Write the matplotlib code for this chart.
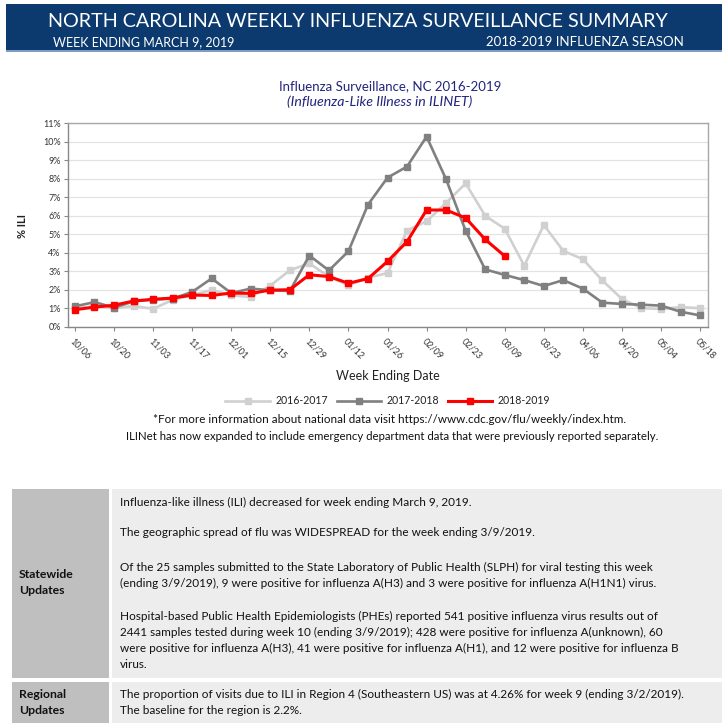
import numpy as np
import matplotlib
matplotlib.use("Agg")
import matplotlib.pyplot as plt
from matplotlib.patches import Rectangle

plt.rcParams['font.family'] = ['Lato', 'DejaVu Sans']

# week-ending dates shown on the x axis (every 2nd week)
tick_labels = ['10/06', '10/20', '11/03', '11/17', '12/01', '12/15', '12/29',
               '01/12', '01/26', '02/09', '02/23', '03/09', '03/23', '04/06',
               '04/20', '05/04', '05/18']

# % ILI per week, week 0 = 10/06
ili_2016 = [1.0, 1.1, 1.0, 1.12, 0.97, 1.45, 1.7, 1.98, 1.7, 1.6, 2.22, 3.05,
            3.43, 2.7, 2.25, 2.65, 2.9, 5.2, 5.7, 6.7, 7.75, 6.0, 5.3, 3.3,
            5.5, 4.1, 3.65, 2.5, 1.5, 1.0, 0.96, 1.06, 1.0]
ili_2017 = [1.1, 1.33, 1.03, 1.37, 1.47, 1.52, 1.88, 2.61, 1.82, 2.06, 1.97,
            1.93, 3.85, 3.04, 4.08, 6.6, 8.06, 8.66, 10.28, 7.97, 5.19, 3.1,
            2.8, 2.52, 2.2, 2.52, 2.06, 1.3, 1.23, 1.19, 1.14, 0.81, 0.61]
ili_2018 = [0.92, 1.06, 1.16, 1.39, 1.48, 1.55, 1.71, 1.69, 1.82, 1.8, 1.98,
            2.0, 2.81, 2.71, 2.35, 2.6, 3.53, 4.6, 6.31, 6.31, 5.88, 4.72, 3.82]

seasons = ['2016-2017', '2017-2018', '2018-2019']
colors = ['#D0D0D0', '#808080', '#FF0000']

statewide_lines = [
    "Influenza-like illness (ILI) decreased for week ending March 9, 2019.",
    "The geographic spread of flu was WIDESPREAD for the week ending 3/9/2019.",
    "Of the 25 samples submitted to the State Laboratory of Public Health (SLPH) for viral testing this week",
    "(ending 3/9/2019), 9 were positive for influenza A(H3) and 3 were positive for influenza A(H1N1) virus.",
    "Hospital-based Public Health Epidemiologists (PHEs) reported 541 positive influenza virus results out of",
    "2441 samples tested during week 10 (ending 3/9/2019); 428 were positive for influenza A(unknown), 60",
    "were positive for influenza A(H3), 41 were positive for influenza A(H1), and 12 were positive for influenza B",
    "virus.",
]
regional_lines = [
    "The proportion of visits due to ILI in Region 4 (Southeastern US) was at 4.26% for week 9 (ending 3/2/2019).",
    "The baseline for the region is 2.2%.",
]

W, H = 727, 726
fig = plt.figure(figsize=(W / 100, H / 100), dpi=100)


def fx(x):
    return x / W


def fy(y):
    return 1 - y / H


def box(x0, y0, x1, y1, color):
    fig.patches.append(Rectangle((fx(x0), fy(y1)), fx(x1 - x0), (y1 - y0) / H,
                                 transform=fig.transFigure, facecolor=color,
                                 edgecolor='none', zorder=0))


# header banner
navy = '#0C3A6E'
box(6, 4, 722, 51, navy)
box(6, 50, 722, 52, '#7E9CC6')
fig.text(fx(357.5), fy(21.5), 'NORTH CAROLINA WEEKLY INFLUENZA SURVEILLANCE SUMMARY',
         color='white', fontsize=14.2, ha='center', va='center')
fig.text(fx(53), fy(42.5), 'WEEK ENDING MARCH 9, 2019', color='white',
         fontsize=9, ha='left', va='center')
fig.text(fx(684), fy(42.5), '2018-2019 INFLUENZA SEASON', color='white',
         fontsize=9.5, ha='right', va='center')

# chart titles
title_c = '#22247E'
fig.text(fx(390), fy(86), 'Influenza Surveillance, NC 2016-2019', color=title_c,
         fontsize=9.5, ha='center', va='center')
fig.text(fx(380), fy(102), '(Influenza-Like Illness in ILINET)', color=title_c,
         fontsize=10.2, style='italic', ha='center', va='center')

# chart
ax = fig.add_axes([fx(67.7), fy(326.7), 640 / W, 203.4 / H])
weeks_all = np.arange(len(ili_2016))
weeks_2018 = np.arange(len(ili_2018))
ax.plot(weeks_all, ili_2016, color=colors[0], lw=1.9, marker='s', ms=4,
        label=seasons[0], zorder=3)
ax.plot(weeks_all, ili_2017, color=colors[1], lw=1.9, marker='s', ms=4,
        label=seasons[1], zorder=4)
ax.plot(weeks_2018, ili_2018, color=colors[2], lw=2.2, marker='s', ms=4.3,
        label=seasons[2], zorder=5)

ax.set_xlim(-0.37, 32.39)
ax.set_ylim(0, 11)
ax.set_yticks(range(12))
ax.set_yticklabels([f'{v}%' for v in range(12)], fontsize=6.5, color='#333333')
ax.set_xticks(np.arange(0, 33, 2))
ax.set_xticklabels(tick_labels, fontsize=6.5, color='#333333', rotation=-45,
                   ha='left', va='top', rotation_mode='anchor')
ax.tick_params(axis='both', length=3, color='#888888', width=0.8)
ax.tick_params(axis='x', pad=4)
ax.tick_params(axis='y', pad=2)
ax.grid(axis='y', color='#E4E4E4', lw=0.9)
ax.set_axisbelow(True)
for side in ['left', 'bottom']:
    ax.spines[side].set_color('#888888')
for side in ['top', 'right']:
    ax.spines[side].set_color('#A8A8A8')
for sp in ax.spines.values():
    sp.set_linewidth(1.0)

fig.text(fx(22), fy(226), '% ILI', rotation=90, fontsize=8, fontweight='bold',
         ha='center', va='center', color='#222222')
fig.text(fx(388), fy(376), 'Week Ending Date', fontsize=9, ha='center',
         va='center', color='#222222')

leg = fig.legend(loc='center', bbox_to_anchor=(fx(388), fy(401)), ncol=3,
                 frameon=False, fontsize=7.6, handlelength=4.2,
                 handletextpad=0.55, columnspacing=0.8)
for t in leg.get_texts():
    t.set_color('#222222')

fig.text(fx(390), fy(420),
         '*For more information about national data visit https://www.cdc.gov/flu/weekly/index.htm.',
         fontsize=8.4, ha='center', va='center', color='#111111')
fig.text(fx(392), fy(436),
         'ILINet has now expanded to include emergency department data that were previously reported separately.',
         fontsize=8.2, ha='center', va='center', color='#111111')

# updates table
box(12, 489, 109, 678, '#BFBFBF')
box(112, 489, 722, 678, '#EDEDED')
box(12, 682, 109, 723, '#BFBFBF')
box(112, 682, 722, 723, '#EDEDED')

for yy, word in zip([575, 591, 694, 710],
                    ['Statewide', 'Updates', 'Regional', 'Updates']):
    fig.text(fx(19), fy(yy), word, fontsize=8.8, fontweight='bold',
             ha='left', va='center', color='#111111')

state_y = [502, 533, 567, 583, 616, 632, 648, 664]
for yy, line in zip(state_y, statewide_lines):
    fig.text(fx(120), fy(yy), line, fontsize=8.5, ha='left', va='center',
             color='#111111')
for yy, line in zip([694, 710], regional_lines):
    fig.text(fx(120), fy(yy), line, fontsize=8.5, ha='left', va='center',
             color='#111111')

fig.savefig('out.png', dpi=100)
